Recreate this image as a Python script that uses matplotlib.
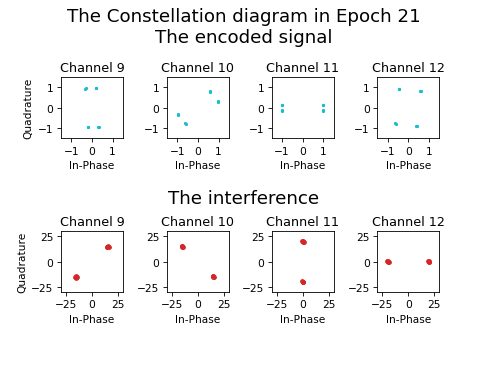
import matplotlib
matplotlib.use("Agg")
import matplotlib.pyplot as plt

channels = ["Channel 9", "Channel 10", "Channel 11", "Channel 12"]

# encoded signal points (I, Q) per channel
enc_i = [
    [-0.32, -0.30, 0.18, 0.20, -0.20, -0.18, 0.30, 0.32],
    [-0.97, -0.95, -0.60, -0.58, 0.58, 0.60, 0.95, 0.97],
    [-1.0, -1.0, -1.0, -1.0, 1.0, 1.0, 1.0, 1.0],
    [-0.45, -0.44, 0.58, 0.60, -0.62, -0.60, 0.40, 0.42],
]
enc_q = [
    [0.94, 0.95, 0.96, 0.97, -0.97, -0.96, -0.94, -0.93],
    [-0.30, -0.35, -0.78, -0.80, 0.80, 0.78, 0.35, 0.28],
    [0.12, 0.14, -0.12, -0.15, 0.12, 0.14, -0.12, -0.15],
    [0.90, 0.91, 0.82, 0.84, -0.78, -0.80, -0.90, -0.91],
]

# interference points (I, Q) per channel
int_i = [
    [-16.0, -14.5, -15.2, -15.8, 14.5, 15.5, 16.0, 15.0],
    [-15.5, -14.8, -15.2, -15.0, 14.5, 15.5, 15.0, 14.8],
    [0.0, 0.8, -0.5, 0.3, -0.6, 0.5, 0.0, -0.2],
    [-20.5, -19.0, -20.0, -19.5, 19.5, 20.5, 20.0, 19.8],
]
int_q = [
    [-15.0, -15.5, -16.0, -14.2, 14.5, 15.5, 14.8, 14.2],
    [15.5, 14.5, 14.0, 15.0, -14.5, -15.5, -15.0, -14.2],
    [20.0, 19.2, 20.5, 19.0, -19.5, -20.5, -19.8, -20.2],
    [0.5, -0.5, 0.0, 0.8, 0.5, -0.5, 0.0, 0.7],
]

fig = plt.figure(figsize=(6.4, 4.813), dpi=76.25)
fig.suptitle("The Constellation diagram in Epoch 21\nThe encoded signal",
             fontsize="xx-large", y=0.977)
fig.text(0.5, 0.433, "The interference", fontsize="xx-large", ha="center", va="bottom")

lefts = [0.125, 0.342, 0.557, 0.773]
w, h = 0.127, 0.166

for k in range(4):
    ax = fig.add_axes([lefts[k], 0.621, w, h])
    ax.scatter(enc_i[k], enc_q[k], s=4, color="tab:cyan")
    ax.set_xlim(-1.5, 1.5)
    ax.set_ylim(-1.5, 1.5)
    ax.set_title(channels[k])
    ax.set_xlabel("In-Phase")
    if k == 0:
        ax.set_ylabel("Quadrature")

    ax2 = fig.add_axes([lefts[k], 0.2016, w, h])
    ax2.scatter(int_i[k], int_q[k], s=12, color="tab:red")
    ax2.set_xlim(-30, 30)
    ax2.set_ylim(-30, 30)
    ax2.set_title(channels[k])
    ax2.set_xlabel("In-Phase")
    if k == 0:
        ax2.set_ylabel("Quadrature")

fig.savefig("out.png")
